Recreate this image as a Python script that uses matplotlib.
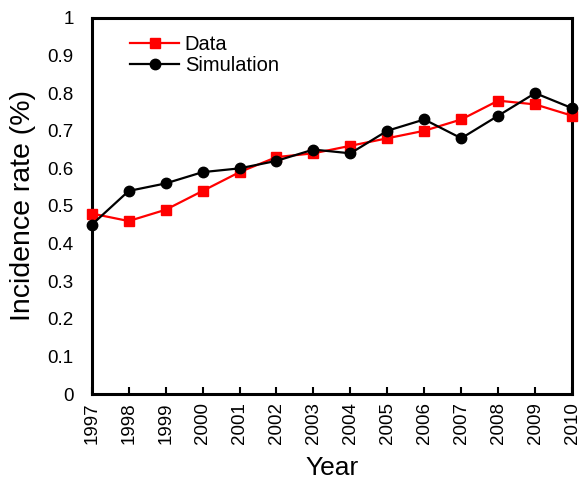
import matplotlib
matplotlib.use("Agg")
import matplotlib.pyplot as plt

aar = list(range(1997, 2011))
data = [0.48, 0.46, 0.49, 0.54, 0.59, 0.63, 0.64, 0.66, 0.68, 0.70, 0.73, 0.78, 0.77, 0.74]
simulation = [0.45, 0.54, 0.56, 0.59, 0.60, 0.62, 0.65, 0.64, 0.70, 0.73, 0.68, 0.74, 0.80, 0.76]
y_ticks = [0, 0.1, 0.2, 0.3, 0.4, 0.5, 0.6, 0.7, 0.8, 0.9, 1]
y_labels = ["0", "0.1", "0.2", "0.3", "0.4", "0.5", "0.6", "0.7", "0.8", "0.9", "1"]

plt.rcParams["font.family"] = ["Liberation Sans", "DejaVu Sans"]

fig = plt.figure(figsize=(5.88, 4.83), dpi=100)
ax = fig.add_axes([0.156, 0.184, 0.817, 0.779])

ax.plot(aar, data, color="red", linewidth=1.6, marker="s", markersize=7.5,
        label="Data", clip_on=False, zorder=3)
ax.plot(aar, simulation, color="black", linewidth=1.6, marker="o", markersize=7.5,
        label="Simulation", clip_on=False, zorder=4)

ax.set_xlim(1997, 2010)
ax.set_ylim(0, 1)
ax.set_xticks(aar)
ax.set_xticklabels([str(a) for a in aar], rotation=90, fontsize=13.5)
ax.set_yticks(y_ticks)
ax.set_yticklabels(y_labels, fontsize=13.5)
ax.tick_params(axis="x", direction="in", length=5, width=1.5, pad=6)
ax.tick_params(axis="y", length=0, pad=13)
for spine in ax.spines.values():
    spine.set_linewidth(2.2)

ax.set_xlabel("Year", fontsize=19, labelpad=8)
ax.set_ylabel("Incidence rate (%)", fontsize=20.5, labelpad=8)

ax.legend(loc="upper left", frameon=False, fontsize=14.5, handlelength=2.4,
          handletextpad=0.3, labelspacing=0.1, borderaxespad=0.45,
          bbox_to_anchor=(0.045, 1.0))

fig.savefig("out.png", dpi=100)
